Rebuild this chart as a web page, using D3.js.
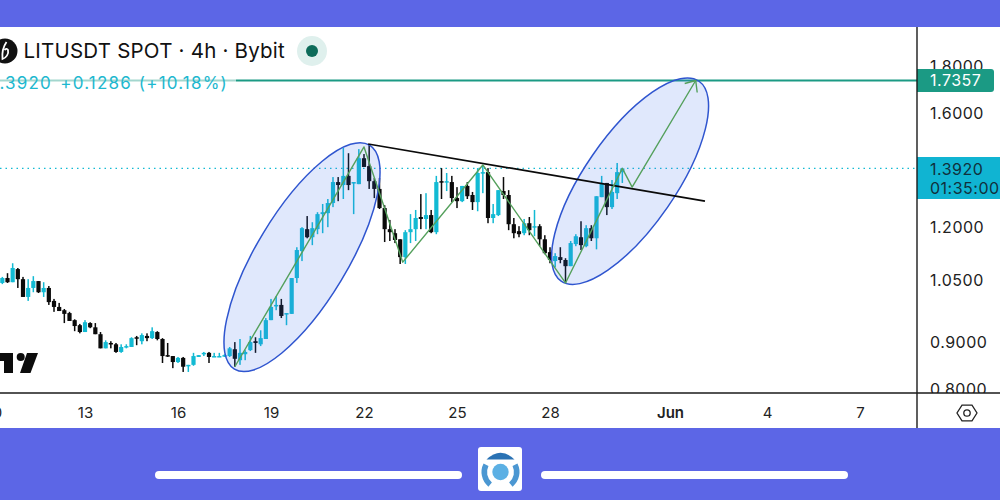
<!DOCTYPE html>
<html>
<head>
<meta charset="utf-8">
<script src="https://cdn.jsdelivr.net/npm/d3@7/dist/d3.min.js"></script>
<style>
  html, body { margin: 0; padding: 0; background: #fff; overflow: hidden; }
  svg { display: block; font-family: Inter, "Noto Sans", sans-serif; }
</style>
</head>
<body>
<svg id="chart" width="1000" height="500"></svg>
<script>
// LITUSDT 4h candles, oldest first
const opens = [1.044,1.057,1.046,1.081,1.054,1.008,1.031,1.049,1.020,1.031,.998,.983,.975,.968,.951,.939,.923,.944,.934,.918,.886,.898,.895,.878,.889,.889,.911,.902,.914,.909,.923,.907,.871,.869,.856,.865,.848,.850,.867,.873,.876,.867,.867,.869,.869,.884,.860,.873,.882,.902,.895,.907,.951,.985,.988,.966,.966,1.057,1.131,1.195,1.171,1.195,1.241,1.244,1.276,1.345,1.335,1.366,1.342,1.338,1.428,1.400,1.348,1.322,1.260,1.195,1.183,1.165,1.114,1.186,1.195,1.232,1.226,1.238,1.186,1.348,1.345,1.345,1.292,1.282,1.332,1.302,1.279,1.376,1.379,1.229,1.238,1.315,1.302,1.210,1.189,1.183,1.213,1.201,1.204,1.165,1.128,1.103,1.114,1.106,1.089,1.151,1.171,1.145,1.198,1.168,1.295,1.342,1.263,1.308,1.379];
const highs = [1.060,1.070,1.097,1.084,1.060,1.054,1.062,1.049,1.046,1.036,1.003,.993,.978,.971,.953,.942,.951,.946,.944,.923,.904,.902,.898,.895,.895,.911,.914,.920,.920,.934,.925,.909,.898,.869,.867,.867,.850,.876,.871,.878,.878,.876,.876,.873,.889,.900,.907,.882,.914,.911,.927,.956,1.003,1.010,1.003,.968,1.057,1.142,1.201,1.235,1.216,1.247,1.273,1.289,1.362,1.362,1.465,1.446,1.345,1.461,1.443,1.476,1.359,1.359,1.269,1.223,1.195,1.165,1.192,1.241,1.254,1.305,1.308,1.254,1.366,1.393,1.376,1.366,1.328,1.332,1.345,1.312,1.393,1.404,1.393,1.273,1.318,1.362,1.318,1.229,1.204,1.226,1.232,1.254,1.210,1.177,1.142,1.125,1.142,1.111,1.160,1.180,1.219,1.207,1.207,1.298,1.366,1.342,1.352,1.411,1.393];
const lows = [1.041,1.044,1.046,1.031,1.008,.998,1.020,1.018,1.008,.988,.971,.973,.944,.949,.925,.920,.923,.932,.918,.886,.886,.886,.876,.876,.886,.889,.893,.895,.902,.907,.904,.854,.867,.843,.854,.835,.835,.848,.867,.869,.854,.867,.867,.867,.867,.846,.850,.860,.880,.876,.891,.907,.951,.975,.956,.939,.966,1.044,1.103,1.168,1.148,1.180,1.183,1.201,1.263,1.282,1.289,1.318,1.241,1.338,1.397,1.322,1.292,1.257,1.157,1.160,1.154,1.095,1.095,1.154,1.160,1.195,1.195,1.183,1.180,1.289,1.315,1.279,1.260,1.279,1.289,1.254,1.250,1.308,1.213,1.213,1.235,1.289,1.192,1.168,1.171,1.177,1.177,1.174,1.145,1.122,1.097,1.086,1.097,1.044,1.089,1.145,1.134,1.142,1.160,1.136,1.295,1.238,1.257,1.289,1.342];
const closes = [1.057,1.046,1.084,1.054,1.008,1.031,1.049,1.020,1.031,.995,.983,.973,.966,.949,.937,.923,.946,.934,.918,.886,.900,.895,.878,.889,.891,.909,.909,.916,.909,.925,.907,.869,.869,.856,.865,.846,.850,.869,.871,.876,.867,.869,.869,.871,.886,.863,.876,.878,.900,.898,.909,.951,.983,.988,.961,.968,1.057,1.134,1.198,1.171,1.198,1.241,1.247,1.276,1.345,1.335,1.366,1.335,1.345,1.428,1.397,1.348,1.322,1.260,1.195,1.186,1.163,1.114,1.186,1.195,1.229,1.226,1.238,1.186,1.345,1.345,1.348,1.292,1.282,1.332,1.298,1.279,1.376,1.379,1.229,1.241,1.318,1.302,1.210,1.183,1.180,1.213,1.192,1.204,1.165,1.125,1.106,1.117,1.106,1.089,1.154,1.174,1.148,1.198,1.168,1.298,1.342,1.263,1.312,1.379,1.392];

// Price and date axis labels
const priceTicks = [0.8, 0.9, 1.05, 1.2, 1.6, 1.8];
const dayTicks = [10, 13, 16, 19, 22, 25, 28, 32, 35, 38];
const dayLabels = ["10", "13", "16", "19", "22", "25", "28", "Jun", "4", "7"];

// Hand-drawn analysis: bar index and price of each vertex
const zigzagBars = [45, 70, 77.5, 93, 109, 120, 121.9, 134.2];
const zigzagPrices = [0.846, 1.469, 1.100, 1.404, 1.044, 1.392, 1.328, 1.7357];
const trendBars = [70.8, 136];
const trendPrices = [1.480, 1.282];
const ellipseBars = [58, 121.5];
const ellipsePrices = [1.114, 1.348];
const ellipseRadiiX = [130.8, 121.4];
const ellipseRadiiY = [45.6, 45.6];
const ellipseTilt = [58.9, 55.4];

// Legend figures
const legendParts = ["1.3920", "+0.1286", "(+10.18%)"];
const legendEnds = [52, 132, 228];

const lastPrice = 1.392;
const targetPrice = 1.7357;

const BAND = "#5c66e6", UP = "#12bad3", DOWN = "#0a0a0a", TEAL = "#1b9a84", INK = "#222";

const svg = d3.select("#chart");
const paneRight = 917, paneTop = 27, paneBottom = 393, stageBottom = 428;

const y = d3.scaleLog().domain([0.8, 1.8]).range([389, 66]);
const xDay = d3.scaleLinear().domain([13, 38]).range([85, 860]);
const barX = i => xDay(13 + (i - 16) / 6);

const defs = svg.append("defs");
defs.append("clipPath").attr("id", "pane").append("rect")
  .attr("x", 0).attr("y", paneTop).attr("width", paneRight).attr("height", paneBottom - paneTop);
defs.append("clipPath").attr("id", "scale").append("rect")
  .attr("x", paneRight).attr("y", paneTop).attr("width", 1000 - paneRight).attr("height", paneBottom - paneTop);

// Reference lines behind the candles
svg.append("line").attr("x1", 0).attr("x2", paneRight)
  .attr("y1", y(lastPrice)).attr("y2", y(lastPrice))
  .attr("stroke", UP).attr("stroke-width", 1.2).attr("stroke-dasharray", "1.5 4");
svg.append("line").attr("x1", 0).attr("x2", paneRight)
  .attr("y1", y(targetPrice)).attr("y2", y(targetPrice))
  .attr("stroke", TEAL).attr("stroke-width", 1.9);

// Candles
const candles = svg.append("g").attr("clip-path", "url(#pane)")
  .selectAll("g").data(opens).join("g")
  .attr("fill", (o, i) => closes[i] >= o ? UP : DOWN);
candles.append("rect").attr("x", (o, i) => barX(i) - 0.75).attr("width", 1.5)
  .attr("y", (o, i) => y(highs[i]))
  .attr("height", (o, i) => y(lows[i]) - y(highs[i]));
candles.append("rect").attr("x", (o, i) => barX(i) - 2.1).attr("width", 4.2)
  .attr("y", (o, i) => y(Math.max(o, closes[i])))
  .attr("height", (o, i) => Math.max(1.5, Math.abs(y(o) - y(closes[i]))));

// Ellipses around the two rallies
svg.append("g").selectAll("ellipse").data(ellipseBars).join("ellipse")
  .attr("rx", (d, i) => ellipseRadiiX[i]).attr("ry", (d, i) => ellipseRadiiY[i])
  .attr("transform", (d, i) => `translate(${barX(d)},${y(ellipsePrices[i])}) rotate(${-ellipseTilt[i]})`)
  .attr("fill", "#4173ea").attr("fill-opacity", 0.16)
  .attr("stroke", "#2f55cf").attr("stroke-width", 1.5);

// Falling trendline
const vertex = d3.line().x(d => barX(d[0])).y(d => y(d[1]));
svg.append("path").attr("d", vertex(d3.zip(trendBars, trendPrices)))
  .attr("fill", "none").attr("stroke", "#0a0a0a").attr("stroke-width", 1.7);

// Projected path, ending in an open arrowhead
const zigzag = d3.zip(zigzagBars, zigzagPrices);
svg.append("path").attr("d", vertex(zigzag))
  .attr("fill", "none").attr("stroke", "#54a05c").attr("stroke-width", 1.4).attr("stroke-linejoin", "round");
const tipX = barX(zigzagBars[zigzagBars.length - 1]), tipY = y(targetPrice);
svg.append("path").attr("d", `M${tipX - 11},${tipY + 3}L${tipX},${tipY}L${tipX + 1.5},${tipY + 12}`)
  .attr("fill", "none").attr("stroke", "#54a05c").attr("stroke-width", 1.4);

// Watermark
const mark = svg.append("g").attr("fill", "#0c0c0c");
mark.append("path").attr("d", "M0,353H13V373H4V361H0Z");
mark.append("circle").attr("cx", 20.7).attr("cy", 357).attr("r", 4);
mark.append("path").attr("d", "M27,353H38L30.5,373H20Z");

// Legend
svg.append("rect").attr("x", 0).attr("y", 71).attr("width", 236).attr("height", 22)
  .attr("fill", "#fff").attr("fill-opacity", 0.6);
svg.append("g").selectAll("text").data(legendParts).join("text")
  .attr("x", (d, i) => legendEnds[i]).attr("y", 89).attr("text-anchor", "end")
  .attr("font-size", 17).attr("fill", "#1db8cf").attr("letter-spacing", 1.2)
  .text(d => d);
svg.append("circle").attr("cx", 5).attr("cy", 51).attr("r", 12.5).attr("fill", "#111");
svg.append("path").attr("d", "M6.5,42 C3,47 2,54 2.5,59 C6,58 9,54 8,50 C7,48 5.5,49 4.5,50")
  .attr("fill", "none").attr("stroke", "#fff").attr("stroke-width", 1.8);
svg.append("text").attr("x", 23.5).attr("y", 58).attr("font-size", 20.5).attr("fill", "#111").attr("letter-spacing", 0.22)
  .text("LITUSDT SPOT · 4h · Bybit");
svg.append("circle").attr("cx", 312).attr("cy", 51).attr("r", 15).attr("fill", "#dff0ed");
svg.append("circle").attr("cx", 312).attr("cy", 51).attr("r", 6).attr("fill", "#0c6b59");

// Price scale
const priceAxis = d3.axisRight(y).tickValues(priceTicks).tickFormat(d3.format(".4f")).tickSize(0).tickPadding(13);
svg.append("g").attr("clip-path", "url(#scale)")
  .append("g").attr("transform", `translate(${paneRight},0)`).call(priceAxis)
  .call(g => g.select(".domain").remove())
  .call(g => g.selectAll("text").attr("font-family", "Inter, sans-serif").attr("font-size", 16).attr("letter-spacing", 0.5).attr("fill", INK));

// Price flags
svg.append("path").attr("d", "M917,69H991Q994,69 994,72V89Q994,92 991,92H917Z").attr("fill", TEAL);
const flagText = svg.append("g").attr("font-size", 16).attr("letter-spacing", 0.5);
flagText.append("text").attr("x", 930).attr("y", y(targetPrice) + 6).attr("fill", "#fff").text(d3.format(".4f")(targetPrice));
svg.append("rect").attr("x", 917).attr("y", 157).attr("width", 83).attr("height", 42).attr("fill", "#10b4d2");
const clockText = svg.append("g").attr("font-size", 16).attr("letter-spacing", 0.5).attr("fill", "#10303c");
clockText.append("text").attr("x", 930).attr("y", 175).text(d3.format(".4f")(lastPrice));
clockText.append("text").attr("x", 930).attr("y", 194).text("01:35:00");

// Time scale
const dayAxis = d3.axisBottom(xDay).tickValues(dayTicks)
  .tickFormat((d, i) => dayLabels[i]).tickSize(0).tickPadding(0);
svg.append("g").attr("transform", "translate(0,407)").call(dayAxis)
  .call(g => g.select(".domain").remove())
  .call(g => g.selectAll("text").attr("font-family", "Inter, sans-serif").attr("font-size", 15).attr("fill", INK)
    .attr("font-weight", d => d === 32 ? 600 : 400)
    .attr("dx", d => d === 32 ? -4 : d === 10 ? 2 : 0));

// Settings hexagon
const hex = d3.range(6).map(k => [967 + 10 * Math.cos(k * Math.PI / 3), 413 + 9 * Math.sin(k * Math.PI / 3)]);
svg.append("polygon").attr("points", hex.join(" ")).attr("fill", "none").attr("stroke", INK).attr("stroke-width", 1.3);
svg.append("circle").attr("cx", 967).attr("cy", 413).attr("r", 3.2).attr("fill", "none").attr("stroke", INK).attr("stroke-width", 1.3);

// Pane borders
svg.append("line").attr("x1", 0).attr("x2", 1000).attr("y1", paneBottom).attr("y2", paneBottom).attr("stroke", "#1a1a1a").attr("stroke-width", 1.4);
svg.append("line").attr("x1", paneRight).attr("x2", paneRight).attr("y1", paneTop).attr("y2", stageBottom).attr("stroke", "#1a1a1a").attr("stroke-width", 1.4);

// Coloured page frame
svg.append("rect").attr("width", 1000).attr("height", paneTop).attr("fill", BAND);
svg.append("rect").attr("y", stageBottom).attr("width", 1000).attr("height", 500 - stageBottom).attr("fill", BAND);

// Footer rules and badge
svg.append("rect").attr("x", 155).attr("y", 471).attr("width", 307).attr("height", 8).attr("rx", 4).attr("fill", "#fff");
svg.append("rect").attr("x", 541).attr("y", 471).attr("width", 307).attr("height", 8).attr("rx", 4).attr("fill", "#fff");
svg.append("rect").attr("x", 478).attr("y", 447).attr("width", 44).attr("height", 44).attr("rx", 3).attr("fill", "#fff");
svg.append("circle").attr("cx", 500.5).attr("cy", 472).attr("r", 8.2).attr("fill", "#5cb0e4");
svg.append("path").attr("d", "M486.5,459.5Q500.5,446 514.5,459.5Z").attr("fill", "#2a72b4");
const sideArc = d3.arc().innerRadius(13.5).outerRadius(19);
[[-2.45, -1.1], [1.1, 2.45]].forEach(a => {
  svg.append("path").attr("transform", "translate(500.5,472)")
    .attr("d", sideArc({ startAngle: a[0], endAngle: a[1] })).attr("fill", "#4b97d2");
});
</script>
</body>
</html>
